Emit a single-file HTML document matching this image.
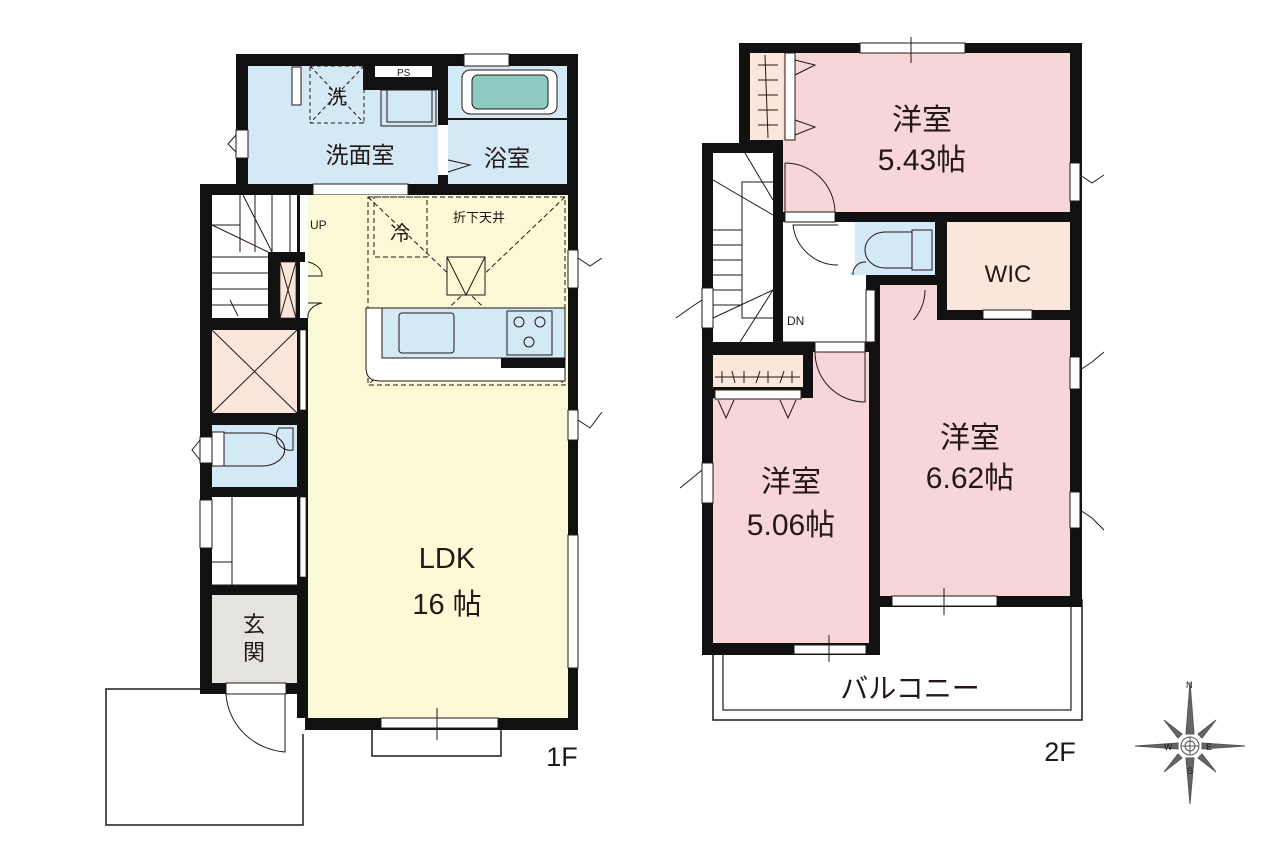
<!DOCTYPE html>
<html><head><meta charset="utf-8"><style>
html,body{margin:0;padding:0;background:#fff}
svg{display:block}
text{font-family:"Liberation Sans","Noto Sans CJK JP",sans-serif;fill:#231815}
</style></head><body>
<svg width="1280" height="853" viewBox="0 0 1280 853" xmlns="http://www.w3.org/2000/svg">
<rect width="1280" height="853" fill="#fff"/>

<!-- ===== 1F ===== -->
<rect x="106" y="689" width="197" height="136" fill="#fff" stroke="#231815" stroke-width="1.5"/>
<rect x="372" y="726" width="129" height="30" fill="#fff" stroke="#231815" stroke-width="1.5"/>
<rect x="236" y="54" width="342" height="140" fill="#111"/>
<rect x="200" y="184" width="378" height="546" fill="#111"/>
<rect x="200" y="694" width="105" height="40" fill="#fff"/>
<rect x="248" y="66" width="190" height="118" fill="#d4e9f6"/>
<rect x="448" y="66" width="119" height="118" fill="#d4e9f6"/>
<rect x="448" y="118" width="119" height="2" fill="#231815"/>
<rect x="363" y="54" width="85" height="36" fill="#111"/>
<rect x="375" y="66" width="57" height="11" fill="#fff"/>
<text x="397" y="76" font-size="10">PS</text>
<rect x="462" y="70" width="95" height="44" rx="8" fill="#fff" stroke="#231815"/>
<rect x="472" y="75" width="76" height="34" rx="6" fill="#8dcbc2" stroke="#231815"/>
<rect x="381" y="90" width="55" height="36" fill="none" stroke="#231815"/>
<rect x="387" y="90" width="45" height="32" fill="none" stroke="#231815"/>
<rect x="292" y="67" width="9" height="38" fill="#fff" stroke="#231815"/>
<rect x="310" y="66" width="54" height="57" fill="none" stroke="#231815" stroke-dasharray="4,3"/>
<line x1="310" y1="66" x2="364" y2="123" stroke="#231815" stroke-dasharray="4,3"/>
<line x1="364" y1="66" x2="310" y2="123" stroke="#231815" stroke-dasharray="4,3"/>
<text x="337" y="104" font-size="20" text-anchor="middle">洗</text>
<text x="360" y="163" font-size="23" text-anchor="middle">洗面室</text>
<text x="507" y="166" font-size="23" text-anchor="middle">浴室</text>
<rect x="438" y="125" width="10" height="50" fill="#fff"/>
<polyline points="448,160 470,165 448,172" fill="none" stroke="#231815"/>
<rect x="236" y="130" width="12" height="28" fill="#fff" stroke="#231815"/>
<polyline points="236,135 228,144 236,152" fill="none" stroke="#231815"/>
<rect x="464" y="54" width="45" height="12" fill="#fff" stroke="#231815"/>
<rect x="313" y="184" width="95" height="11" fill="#fff" stroke="#231815"/>

<rect x="308" y="195" width="260" height="523" fill="#fcf9d6"/>
<rect x="297" y="195" width="11" height="523" fill="#111"/>
<rect x="300" y="195" width="8" height="120" fill="#fff"/>
<rect x="300" y="330" width="6" height="80" fill="#fff" stroke="#231815" stroke-width="0.7"/>
<rect x="300" y="497" width="6" height="80" fill="#fff" stroke="#231815" stroke-width="0.7"/>
<rect x="212" y="195" width="85" height="123" fill="#fff"/>
<g stroke="#231815" stroke-width="1" fill="none">
<line x1="212" y1="257" x2="268" y2="257"/><line x1="212" y1="273" x2="268" y2="273"/>
<line x1="212" y1="289" x2="268" y2="289"/><line x1="212" y1="305" x2="268" y2="305"/>
<line x1="240" y1="195" x2="240" y2="252"/><line x1="255" y1="195" x2="255" y2="252"/>
<line x1="272" y1="195" x2="272" y2="252"/><line x1="290" y1="195" x2="290" y2="252"/>
<polyline points="240,252 240,225 212,225"/>
<line x1="243" y1="195" x2="272" y2="252"/><line x1="212" y1="225" x2="268" y2="252"/>
<line x1="230" y1="300" x2="238" y2="316"/>
</g>
<rect x="268" y="252" width="37" height="66" fill="#111"/>
<rect x="280" y="262" width="16" height="56" fill="#fbe6dc" stroke="#231815" stroke-width="0.7"/>
<line x1="280" y1="262" x2="296" y2="318" stroke="#231815"/><line x1="296" y1="262" x2="280" y2="318" stroke="#231815"/>
<rect x="300" y="262" width="8" height="56" fill="#fff"/>
<path d="M308,262 A20,14 0 0 1 322,276 L308,276 M308,318 A20,14 0 0 1 322,303 L308,303" fill="none" stroke="#231815"/>
<rect x="212" y="330" width="85" height="83" fill="#fbe6dc"/>
<line x1="212" y1="330" x2="297" y2="413" stroke="#231815"/><line x1="297" y1="330" x2="212" y2="413" stroke="#231815"/>
<rect x="212" y="425" width="85" height="62" fill="#d4e9f6"/>
<rect x="212" y="432" width="12" height="34" fill="#fff" stroke="#231815"/>
<path d="M224,433 L262,433 A22,16 0 0 1 262,466 L224,466 Z" fill="none" stroke="#231815"/>
<path d="M279,428 A14,14 0 0 0 293,450 L293,428 Z" fill="none" stroke="#231815"/>
<rect x="200" y="437" width="12" height="26" fill="#fff" stroke="#231815"/>
<polyline points="200,440 192,450 200,460" fill="none" stroke="#231815"/>
<rect x="212" y="497" width="85" height="88" fill="#fff"/>
<line x1="232" y1="497" x2="232" y2="585" stroke="#231815"/>
<line x1="212" y1="562" x2="232" y2="562" stroke="#231815"/>
<line x1="212" y1="585" x2="297" y2="585" stroke="#231815"/>
<rect x="200" y="500" width="12" height="48" fill="#fff" stroke="#231815"/>
<rect x="212" y="595" width="85" height="88" fill="#e5e3e0"/>
<text x="254" y="632" font-size="22" text-anchor="middle">玄</text>
<text x="254" y="660" font-size="22" text-anchor="middle">関</text>
<rect x="226" y="683" width="60" height="11" fill="#fff" stroke="#231815"/>
<path d="M226,694 A64,62 0 0 0 285,752 L285,694" fill="none" stroke="#231815"/>
<text x="310" y="229" font-size="12">UP</text>

<rect x="368" y="197" width="197" height="188" fill="none" stroke="#231815" stroke-dasharray="5,3"/>
<rect x="374" y="197" width="53" height="60" fill="none" stroke="#231815" stroke-dasharray="5,3"/>
<line x1="368" y1="197" x2="565" y2="385" stroke="#231815" stroke-dasharray="5,3"/>
<line x1="565" y1="197" x2="368" y2="385" stroke="#231815" stroke-dasharray="5,3"/>
<text x="400" y="240" font-size="20" text-anchor="middle">冷</text>
<text x="453" y="222" font-size="13">折下天井</text>
<rect x="447" y="257" width="38" height="38" fill="#fcf9d6" stroke="#231815"/>
<polyline points="447,257 466,295 485,257" fill="none" stroke="#231815"/>
<path d="M366,308 L565,308 L565,381 L380,381 Q366,381 366,368 Z" fill="#fff" stroke="#231815"/>
<rect x="382" y="308" width="183" height="50" fill="#d4e9f6" stroke="#231815"/>
<rect x="399" y="313" width="55" height="40" rx="3" fill="#d4e9f6" stroke="#231815"/>
<rect x="507" y="311" width="45" height="44" fill="#d4e9f6" stroke="#231815"/>
<g fill="none" stroke="#231815"><circle cx="519" cy="322" r="5"/><circle cx="540" cy="322" r="5"/><circle cx="529" cy="342" r="5"/></g>
<rect x="501" y="358" width="64" height="10" fill="#111"/>
<rect x="568" y="250" width="10" height="38" fill="#fff" stroke="#231815"/>
<polyline points="578,258 590,266 602,258" fill="none" stroke="#231815"/>
<rect x="568" y="410" width="10" height="30" fill="#fff" stroke="#231815"/>
<polyline points="578,420 590,428 602,412" fill="none" stroke="#231815"/>
<rect x="568" y="535" width="10" height="133" fill="#fff" stroke="#231815"/>
<rect x="381" y="718" width="117" height="10" fill="#fff" stroke="#231815"/>
<line x1="437" y1="708" x2="437" y2="740" stroke="#231815"/>
<text x="447" y="568" font-size="29" text-anchor="middle">LDK</text>
<text x="447" y="614" font-size="29" text-anchor="middle">16 帖</text>
<text x="562" y="766" font-size="27" text-anchor="middle">1F</text>

<!-- ===== 2F ===== -->
<rect x="713" y="600" width="369" height="120" fill="#fff" stroke="#231815" stroke-width="1.5"/>
<rect x="723" y="600" width="348" height="110" fill="none" stroke="#231815" stroke-width="1.2"/>
<rect x="739" y="43" width="343" height="180" fill="#111"/>
<rect x="702" y="143" width="85" height="210" fill="#111"/>
<rect x="702" y="212" width="380" height="150" fill="#111"/>
<rect x="702" y="340" width="178" height="315" fill="#111"/>
<rect x="869" y="300" width="213" height="307" fill="#111"/>
<rect x="783" y="53" width="287" height="159" fill="#f7d6d7"/>
<rect x="750" y="53" width="33" height="87" fill="#fbe6dc"/>
<rect x="785" y="53" width="10" height="87" fill="#fff" stroke="#231815"/>
<g stroke="#231815"><line x1="758" y1="65" x2="778" y2="65"/><line x1="758" y1="80" x2="778" y2="80"/><line x1="758" y1="95" x2="778" y2="95"/><line x1="758" y1="110" x2="778" y2="110"/><line x1="758" y1="125" x2="778" y2="125"/><line x1="765" y1="55" x2="768" y2="138"/></g>
<polyline points="795,60 815,65 795,75" fill="none" stroke="#231815"/>
<polyline points="795,120 815,127 795,135" fill="none" stroke="#231815"/>
<rect x="860" y="43" width="105" height="10" fill="#fff" stroke="#231815"/>
<line x1="911" y1="37" x2="911" y2="63" stroke="#231815"/>
<rect x="1070" y="163" width="10" height="38" fill="#fff" stroke="#231815"/>
<polyline points="1080,175 1092,183 1104,175" fill="none" stroke="#231815"/>
<text x="922" y="130" font-size="30" text-anchor="middle">洋室</text>
<text x="922" y="170" font-size="30" text-anchor="middle">5.43帖</text>
<rect x="713" y="153" width="60" height="189" fill="#fff"/>
<g stroke="#231815" fill="none"><line x1="713" y1="230" x2="742" y2="230"/><line x1="713" y1="245" x2="742" y2="245"/><line x1="713" y1="260" x2="742" y2="260"/><line x1="713" y1="275" x2="742" y2="275"/><line x1="713" y1="290" x2="742" y2="290"/><line x1="713" y1="305" x2="742" y2="305"/>
<polyline points="773,182 742,182 742,318 773,318"/><line x1="745" y1="153" x2="773" y2="200"/><line x1="713" y1="180" x2="773" y2="215"/><line x1="713" y1="318" x2="773" y2="290"/><line x1="740" y1="342" x2="773" y2="290"/></g>
<rect x="702" y="288" width="11" height="40" fill="#fff" stroke="#231815"/>
<polyline points="702,300 690,308 676,318" fill="none" stroke="#231815"/>
<rect x="783" y="212" width="55" height="10" fill="#111"/>
<rect x="783" y="222" width="83" height="120" fill="#fff"/>
<rect x="880" y="285" width="57" height="37" fill="#f7d6d7"/>
<rect x="785" y="212" width="50" height="10" fill="#fff" stroke="#231815"/>
<path d="M785,163 A50,50 0 0 1 835,212" fill="none" stroke="#231815"/>
<line x1="785" y1="163" x2="785" y2="212" stroke="#231815"/>
<path d="M838,265 A45,45 0 0 1 793,225 L838,225" fill="none" stroke="#231815"/>
<text x="787" y="325" font-size="12">DN</text>
<line x1="773" y1="342" x2="866" y2="342" stroke="#231815"/>
<rect x="866" y="290" width="9" height="52" fill="#fff" stroke="#231815"/>
<path d="M880,335 A45,45 0 0 0 925,290" fill="none" stroke="#231815"/>
<rect x="850" y="222" width="85" height="53" fill="#d4e9f6"/>
<path d="M915,232 L885,232 A20,18 0 0 0 885,268 L915,268 Z" fill="none" stroke="#231815"/>
<rect x="912" y="230" width="20" height="40" fill="#d4e9f6" stroke="#231815"/>
<rect x="850" y="222" width="5" height="50" fill="#fff"/>
<path d="M853,275 A12,12 0 0 1 866,262" fill="none" stroke="#231815"/>
<rect x="947" y="222" width="123" height="88" fill="#fbe6dc"/>
<text x="1008" y="282" font-size="24" text-anchor="middle">WIC</text>
<rect x="983" y="310" width="49" height="9" fill="#fff" stroke="#231815"/>
<polyline points="983,321 992,345 1000,321" fill="none" stroke="#231815"/>
<rect x="880" y="320" width="190" height="276" fill="#f7d6d7"/>
<rect x="1070" y="357" width="10" height="32" fill="#fff" stroke="#231815"/>
<polyline points="1080,370 1092,362 1104,352" fill="none" stroke="#231815"/>
<rect x="1070" y="492" width="10" height="36" fill="#fff" stroke="#231815"/>
<polyline points="1080,510 1092,518 1104,530" fill="none" stroke="#231815"/>
<rect x="892" y="596" width="105" height="10" fill="#fff" stroke="#231815"/>
<line x1="944" y1="588" x2="944" y2="615" stroke="#231815"/>
<text x="970" y="448" font-size="30" text-anchor="middle">洋室</text>
<text x="970" y="488" font-size="30" text-anchor="middle">6.62帖</text>
<rect x="713" y="352" width="156" height="291" fill="#f7d6d7"/>
<rect x="713" y="352" width="100" height="46" fill="#111"/>
<rect x="713" y="355" width="90" height="32" fill="#fbe6dc"/>
<line x1="715" y1="377" x2="800" y2="377" stroke="#231815"/>
<g stroke="#231815"><line x1="722" y1="371" x2="722" y2="383"/><line x1="732" y1="371" x2="735" y2="383"/><line x1="744" y1="371" x2="744" y2="383"/><line x1="756" y1="383" x2="760" y2="371"/><line x1="768" y1="371" x2="768" y2="383"/><line x1="780" y1="383" x2="784" y2="371"/><line x1="792" y1="371" x2="792" y2="383"/></g>
<rect x="715" y="390" width="86" height="9" fill="#fff" stroke="#231815"/>
<polyline points="718,400 726,418 734,400" fill="none" stroke="#231815"/>
<polyline points="780,400 788,418 796,400" fill="none" stroke="#231815"/>
<rect x="815" y="342" width="50" height="10" fill="#fff" stroke="#231815"/>
<path d="M815,352 A50,50 0 0 0 865,402 L865,352" fill="none" stroke="#231815"/>
<rect x="702" y="463" width="11" height="40" fill="#fff" stroke="#231815"/>
<polyline points="702,470 690,480 680,488" fill="none" stroke="#231815"/>
<rect x="794" y="645" width="72" height="9" fill="#fff" stroke="#231815"/>
<line x1="829" y1="635" x2="829" y2="662" stroke="#231815"/>
<text x="791" y="492" font-size="30" text-anchor="middle">洋室</text>
<text x="791" y="535" font-size="30" text-anchor="middle">5.06帖</text>
<text x="910" y="698" font-size="28" text-anchor="middle">バルコニー</text>
<text x="1060" y="761" font-size="27" text-anchor="middle">2F</text>

<g transform="translate(1190,746)" stroke="#555" fill="#666">
<polygon points="0,-64 -4,-12 4,-12"/>
<polygon points="0,58 -4,12 4,12"/>
<polygon points="-55,0 -12,-3 -12,3"/>
<polygon points="55,0 12,-3 12,3"/>
<polygon points="-26,-26 -8,-12 -12,-8"/><polygon points="26,-26 8,-12 12,-8"/>
<polygon points="-26,26 -8,12 -12,8"/><polygon points="26,26 8,12 12,8"/>
<circle r="9" fill="#fff"/><circle r="5" fill="none"/>
<line x1="-9" y1="0" x2="9" y2="0"/><line x1="0" y1="-9" x2="0" y2="9"/>
</g>
<text x="1186" y="688" font-size="9" fill="#555">N</text>
<text x="1164" y="750" font-size="9" fill="#555">W</text>
<text x="1206" y="750" font-size="9" fill="#555">E</text>
<text x="1187" y="774" font-size="9" fill="#555">S</text>
</svg>
</body></html>
